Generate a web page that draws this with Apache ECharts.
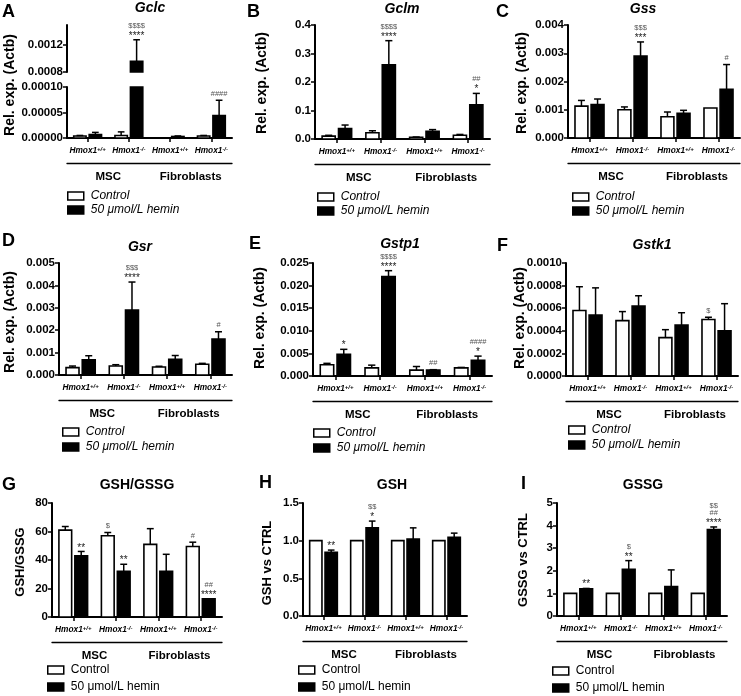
<!DOCTYPE html>
<html>
<head>
<meta charset="utf-8">
<script src="https://cdn.jsdelivr.net/npm/echarts@6/dist/echarts.min.js"></script>
<style>html,body{margin:0;padding:0;background:#fff}#c{width:741px;height:696px}</style>
</head>
<body>
<div id="c"></div>
<script>
// ---------- shared categories ----------
const groupLabels = ['Hmox1+/+', 'Hmox1-/-', 'Hmox1+/+', 'Hmox1-/-'];
const cellTypes = ['MSC', 'Fibroblasts'];
const legendNames = ['Control', '50 μmol/L hemin'];

// ---------- A: Gclc ----------
const gclcControl = [0.000004, 0.000005, 0.0000005, 0.000004];
const gclcControlSD = [0.000001, 0.000007, 0, 0.000001];
const gclcHemin = [0.000007, 0.00096, 0.000003, 0.000044];
const gclcHeminSD = [0.000004, 0.00032, 0.000001, 0.00003];
const gclcControlSig = [[], [], [], []];
const gclcHeminSig = [[], ['$$$$', '****'], [], ['####']];
const gclcTicksUpper = [0.0008, 0.0012];
const gclcTicksLower = [0, 0.00005, 0.0001];

// ---------- B: Gclm ----------
const gclmControl = [0.01, 0.022, 0.006, 0.013];
const gclmControlSD = [0.003, 0.007, 0.001, 0.003];
const gclmHemin = [0.037, 0.26, 0.027, 0.12];
const gclmHeminSD = [0.012, 0.085, 0.006, 0.04];
const gclmControlSig = [[], [], [], []];
const gclmHeminSig = [[], ['$$$$', '****'], [], ['##', '*']];
const gclmTicks = [0, 0.1, 0.2, 0.3, 0.4];

// ---------- C: Gss ----------
const gssControl = [0.00113, 0.001, 0.00075, 0.00106];
const gssControlSD = [0.0002, 0.0001, 0.00017, 0];
const gssHemin = [0.00118, 0.0029, 0.00087, 0.00172];
const gssHeminSD = [0.0002, 0.0005, 0.00011, 0.00088];
const gssControlSig = [[], [], [], []];
const gssHeminSig = [[], ['$$$', '***'], [], ['#']];
const gssTicks = [0, 0.001, 0.002, 0.003, 0.004];

// ---------- D: Gsr ----------
const gsrControl = [0.00033, 0.0004, 0.00036, 0.00048];
const gsrControlSD = [0.00007, 0.00006, 0.00003, 0.00004];
const gsrHemin = [0.00068, 0.0029, 0.0007, 0.0016];
const gsrHeminSD = [0.00018, 0.00125, 0.00017, 0.00033];
const gsrControlSig = [[], [], [], []];
const gsrHeminSig = [[], ['$$$', '****'], [], ['#']];
const gsrTicks = [0, 0.001, 0.002, 0.003, 0.004, 0.005];

// ---------- E: Gstp1 ----------
const gstp1Control = [0.0025, 0.0018, 0.0013, 0.0018];
const gstp1ControlSD = [0.0003, 0.0006, 0.0008, 0.0001];
const gstp1Hemin = [0.0048, 0.022, 0.0013, 0.0035];
const gstp1HeminSD = [0.0011, 0.0013, 0.0001, 0.0009];
const gstp1ControlSig = [[], [], [], []];
const gstp1HeminSig = [['*'], ['$$$$', '****'], ['##'], ['####', '*']];
const gstp1Ticks = [0, 0.005, 0.01, 0.015, 0.02, 0.025];

// ---------- F: Gstk1 ----------
const gstk1Control = [0.00058, 0.00049, 0.00034, 0.0005];
const gstk1ControlSD = [0.00021, 0.00008, 0.00007, 0.00002];
const gstk1Hemin = [0.00054, 0.00062, 0.00045, 0.0004];
const gstk1HeminSD = [0.00024, 0.00009, 0.00011, 0.00024];
const gstk1ControlSig = [[], [], [], ['$']];
const gstk1HeminSig = [[], [], [], []];
const gstk1Ticks = [0, 0.0002, 0.0004, 0.0006, 0.0008, 0.001];

// ---------- G: GSH/GSSG ----------
const ratioControl = [61, 57, 51, 49.5];
const ratioControlSD = [2.5, 2.3, 11, 3];
const ratioHemin = [43, 32, 32, 12.7];
const ratioHeminSD = [3, 5, 12, 0];
const ratioControlSig = [[], ['$'], [], ['#']];
const ratioHeminSig = [['**'], ['**'], [], ['##', '****']];
const ratioTicks = [0, 20, 40, 60, 80];

// ---------- H: GSH ----------
const gshControl = [1, 1, 1, 1];
const gshControlSD = [0, 0, 0, 0];
const gshHemin = [0.845, 1.17, 1.02, 1.045];
const gshHeminSD = [0.03, 0.09, 0.15, 0.055];
const gshControlSig = [[], [], [], []];
const gshHeminSig = [['**'], ['$$', '*'], [], []];
const gshTicks = [0, 0.5, 1.0, 1.5];

// ---------- I: GSSG ----------
const gssgControl = [1, 1, 1, 1];
const gssgControlSD = [0, 0, 0, 0];
const gssgHemin = [1.2, 2.07, 1.3, 3.82];
const gssgHeminSD = [0.02, 0.38, 0.74, 0.12];
const gssgControlSig = [[], [], [], []];
const gssgHeminSig = [['**'], ['$', '**'], [], ['$$', '##', '****']];
const gssgTicks = [0, 1, 2, 3, 4, 5];

// ---------- layout ----------
const FONT = '"Liberation Sans", Arial, Helvetica, sans-serif';
const RELEXP = 'Rel. exp. (Actb)';

const panels = [
  {letter:'A', lx:2, ly:12, title:'Gclc', tItalic:true, tx:150, ty:8, yName:RELEXP, nx:10, ny:85, nSize:14,
   left:67, right:232, legLeft:67, legTop:189, legGap:0, legItalic:true,
   ctrl:[gclcControl, gclcControlSD, gclcControlSig], hem:[gclcHemin, gclcHeminSD, gclcHeminSig],
   segs:[{top:25, bottom:72, min:0.0008, max:0.0015, ticks:gclcTicksUpper, dec:4},
         {top:87, bottom:138, min:0, max:0.0001, ticks:gclcTicksLower, dec:5}]},
  {letter:'B', lx:247, ly:12, title:'Gclm', tItalic:true, tx:402, ty:9, yName:RELEXP, nx:262, ny:83, nSize:14,
   left:315, right:490, legLeft:317, legTop:190, legGap:0, legItalic:true,
   ctrl:[gclmControl, gclmControlSD, gclmControlSig], hem:[gclmHemin, gclmHeminSD, gclmHeminSig],
   segs:[{top:25, bottom:139, min:0, max:0.4, ticks:gclmTicks, dec:1}]},
  {letter:'C', lx:496, ly:12, title:'Gss', tItalic:true, tx:643, ty:9, yName:RELEXP, nx:522, ny:83, nSize:14,
   left:568, right:740, legLeft:572, legTop:190, legGap:0, legItalic:true,
   ctrl:[gssControl, gssControlSD, gssControlSig], hem:[gssHemin, gssHeminSD, gssHeminSig],
   segs:[{top:25, bottom:138, min:0, max:0.004, ticks:gssTicks, dec:3}]},
  {letter:'D', lx:2, ly:241, title:'Gsr', tItalic:true, tx:140, ty:247, yName:RELEXP, nx:10, ny:322, nSize:14,
   left:59, right:232, legLeft:62, legTop:425, legGap:1, legItalic:true,
   ctrl:[gsrControl, gsrControlSD, gsrControlSig], hem:[gsrHemin, gsrHeminSD, gsrHeminSig],
   segs:[{top:263, bottom:375, min:0, max:0.005, ticks:gsrTicks, dec:3}]},
  {letter:'E', lx:249, ly:244, title:'Gstp1', tItalic:true, tx:400, ty:244, yName:RELEXP, nx:260, ny:318, nSize:14,
   left:313, right:492, legLeft:313, legTop:426, legGap:1, legItalic:true,
   ctrl:[gstp1Control, gstp1ControlSD, gstp1ControlSig], hem:[gstp1Hemin, gstp1HeminSD, gstp1HeminSig],
   segs:[{top:263, bottom:376, min:0, max:0.025, ticks:gstp1Ticks, dec:3}]},
  {letter:'F', lx:497, ly:246, title:'Gstk1', tItalic:true, tx:652, ty:245, yName:RELEXP, nx:520, ny:318, nSize:14,
   left:566, right:738, legLeft:568, legTop:423, legGap:1, legItalic:true,
   ctrl:[gstk1Control, gstk1ControlSD, gstk1ControlSig], hem:[gstk1Hemin, gstk1HeminSD, gstk1HeminSig],
   segs:[{top:263, bottom:376, min:0, max:0.001, ticks:gstk1Ticks, dec:4}]},
  {letter:'G', lx:2, ly:485, title:'GSH/GSSG', tItalic:false, tx:137, ty:485, yName:'GSH/GSSG', nx:20, ny:562, nSize:13,
   left:52, right:222, legLeft:47, legTop:663, legGap:3, legItalic:false,
   ctrl:[ratioControl, ratioControlSD, ratioControlSig], hem:[ratioHemin, ratioHeminSD, ratioHeminSig],
   segs:[{top:503, bottom:617, min:0, max:80, ticks:ratioTicks, dec:0}]},
  {letter:'H', lx:259, ly:483, title:'GSH', tItalic:false, tx:392, ty:485, yName:'GSH vs CTRL', nx:267, ny:563, nSize:13,
   left:303, right:467, legLeft:298, legTop:663, legGap:3, legItalic:false,
   ctrl:[gshControl, gshControlSD, gshControlSig], hem:[gshHemin, gshHeminSD, gshHeminSig],
   segs:[{top:503, bottom:616, min:0, max:1.5, ticks:gshTicks, dec:1}]},
  {letter:'I', lx:521, ly:484, title:'GSSG', tItalic:false, tx:643, ty:485, yName:'GSSG vs CTRL', nx:523, ny:560, nSize:13,
   left:557, right:727, legLeft:552, legTop:664, legGap:3, legItalic:false,
   ctrl:[gssgControl, gssgControlSD, gssgControlSig], hem:[gssgHemin, gssgHeminSD, gssgHeminSig],
   segs:[{top:503, bottom:616, min:0, max:5, ticks:gssgTicks, dec:0}]}
];

function makeRender(side, sig) {
  return function (params, api) {
    const idx = api.value(0), v = api.value(1), sd = api.value(2);
    const cs = params.coordSys;
    const lo = cs.y, hi = cs.y + cs.height;
    const clampY = y => Math.min(hi, Math.max(lo, y));
    const p0 = api.coord([idx, 0]);
    const catW = api.size([1, 0])[0];
    const bw = catW * 0.3, gap = catW * 0.075;
    const cx = p0[0] + (side === 0 ? -1 : 1) * (bw + gap) / 2;
    const yv = api.coord([idx, v])[1];
    const y1 = clampY(yv), y0 = clampY(p0[1]);
    const children = [];
    if (y0 - y1 > 0.3) {
      children.push({type:'rect', shape:{x:cx - bw / 2, y:y1, width:bw, height:y0 - y1},
        style:{fill: side ? '#000' : '#fff', stroke:'#000', lineWidth:1.6}});
    }
    const inside = yv >= lo - 0.5 && yv <= hi + 0.5;
    if (!inside) return {type:'group', children};
    let topY = yv;
    if (sd > 0) {
      const ye = api.coord([idx, v + sd])[1];
      if (ye < lo - 1) return {type:'group', children};
      children.push({type:'line', shape:{x1:cx, y1:yv, x2:cx, y2:ye}, style:{stroke:'#000', lineWidth:1.5}});
      children.push({type:'line', shape:{x1:cx - bw * 0.27, y1:ye, x2:cx + bw * 0.27, y2:ye}, style:{stroke:'#000', lineWidth:1.5}});
      topY = ye;
    }
    const lines = sig[idx] || [];
    for (let k = 0; k < lines.length; k++) {
      const t = lines[lines.length - 1 - k];
      const star = t.indexOf('*') >= 0;
      const cy = topY - 6.5 - 7.5 * k;
      children.push({type:'text', x:cx, y:cy + (star ? 2.8 : 0),
        style:{text:t, fill: star ? '#222' : '#555', fontSize: star ? 10 : 7.5, fontFamily:FONT,
               align:'center', verticalAlign:'middle'}});
    }
    return {type:'group', children};
  };
}

const option = {
  animation:false, backgroundColor:'#fff',
  textStyle:{fontFamily:FONT},
  grid:[], xAxis:[], yAxis:[], series:[], legend:[], graphic:[]
};

const AXW = 2;

panels.forEach(p => {
  p.segs.forEach((seg, si) => {
    const gi = option.grid.length;
    const isBase = si === p.segs.length - 1;
    option.grid.push({left:p.left, width:p.right - p.left, top:seg.top, height:seg.bottom - seg.top, outerBoundsMode:'none'});
    const xi = option.xAxis.length;
    option.xAxis.push({
      type:'category', gridIndex:gi, data:groupLabels, show:isBase,
      axisLine:{show:true, lineStyle:{color:'#000', width:AXW}},
      axisTick:{show:true, alignWithLabel:true, length:4, lineStyle:{color:'#000', width:1.5}},
      axisLabel:{margin:8, interval:0,
        formatter: val => { const m = val.match(/^(Hmox1)(.*)$/); return '{i|' + m[1] + '}{s|' + m[2] + '}'; },
        rich:{
          i:{fontSize:8.3, fontWeight:'bold', fontStyle:'italic', fontFamily:FONT, color:'#000', lineHeight:10},
          s:{fontSize:6, fontWeight:'bold', fontStyle:'italic', fontFamily:FONT, color:'#000', verticalAlign:'top', lineHeight:6}
        }},
      splitLine:{show:false}
    });
    if (isBase) {
      option.xAxis.push({
        type:'category', gridIndex:gi, data:cellTypes, position:'bottom', offset:25,
        axisLine:{show:true, lineStyle:{color:'#000', width:1.3}},
        axisTick:{show:false},
        axisLabel:{margin:8, fontSize:11.5, fontWeight:'bold', color:'#000', fontFamily:FONT},
        splitLine:{show:false}
      });
    }
    const yi = option.yAxis.length;
    option.yAxis.push({
      type:'value', gridIndex:gi, min:seg.min, max:seg.max,
      axisLine:{show:true, lineStyle:{color:'#000', width:AXW}},
      axisTick:{show:true, length:4, lineStyle:{color:'#000', width:1.5}, customValues:seg.ticks},
      axisLabel:{margin:4, fontSize:11.5, fontWeight:'bold', color:'#000', fontFamily:FONT, customValues:seg.ticks,
        showMaxLabel:true,
        formatter: val => seg.ticks.some(t => Math.abs(t - val) < 1e-12) ? val.toFixed(seg.dec) : ''},
      splitLine:{show:false}
    });
    [p.ctrl, p.hem].forEach((d, side) => {
      option.series.push({
        type:'custom', name:legendNames[side], xAxisIndex:xi, yAxisIndex:yi, silent:true, clip:false,
        encode:{x:0, y:1},
        data:d[0].map((v, i) => [i, v, d[1][i]]),
        renderItem: makeRender(side, d[2])
      });
    });
  });
  option.legend.push({
    orient:'vertical', left:p.legLeft, top:p.legTop, padding:0, itemWidth:16, itemHeight:8, itemGap:p.legGap,
    selectedMode:false, icon:'rect',
    data: legendNames.map((n, i) => ({name:n, itemStyle:{color: i ? '#000' : '#fff', borderColor:'#000', borderWidth:1.5}})),
    textStyle:{fontSize:12, fontStyle: p.legItalic ? 'italic' : 'normal', fontFamily:FONT, color:'#000', lineHeight:14, padding:[0,0,0,2]}
  });
  option.graphic.push({type:'text', x:p.lx, y:p.ly,
    style:{text:p.letter, fontSize:18, fontWeight:'bold', fontFamily:FONT, fill:'#000', align:'left', verticalAlign:'middle'}});
  option.graphic.push({type:'text', x:p.tx, y:p.ty,
    style:{text:p.title, fontSize:14, fontWeight:'bold', fontStyle: p.tItalic ? 'italic' : 'normal', fontFamily:FONT, fill:'#000', align:'center', verticalAlign:'middle'}});
  option.graphic.push({type:'text', x:p.nx, y:p.ny, rotation:Math.PI / 2,
    style:{text:p.yName, fontSize:p.nSize, fontWeight:'bold', fontFamily:FONT, fill:'#000', align:'center', verticalAlign:'middle'}});
});

const chart = echarts.init(document.getElementById('c'), null, {renderer:'canvas'});
chart.setOption(option);
</script>
</body>
</html>
